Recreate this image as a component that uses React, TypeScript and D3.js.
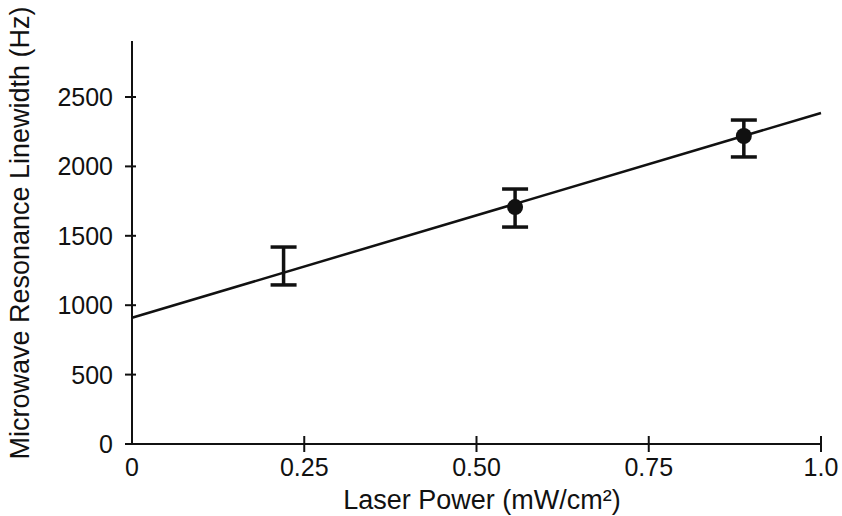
import React from "react";
import * as d3 from "d3";

const power = [0.22, 0.556, 0.888];
const linewidth = [1240, 1707, 2219];
const errLow = [1146, 1563, 2068];
const errHigh = [1419, 1837, 2334];
const showMarker = [false, true, true];
const fitX = [0, 1.0];
const fitY = [910, 2385];
const xTicks = [0, 0.25, 0.5, 0.75, 1.0];
const xTickLabels = ["0", "0.25", "0.50", "0.75", "1.0"];
const yTicks = [0, 500, 1000, 1500, 2000, 2500];

const W = 842, H = 516;
const left = 132, right = 821, bottom = 444;

export default function App() {
  const x = d3.scaleLinear().domain([0, 1]).range([left, right]);
  const y = d3.scaleLinear().domain([0, 2500]).range([bottom, 97]);
  const yTop = 41;
  const line = d3.line<number>().x((_, i) => x(fitX[i])).y((d) => y(d));
  const font = "'Liberation Sans', Arial, sans-serif";
  return (
    <svg width={W} height={H} style={{ position: "absolute", left: 0, top: 0, background: "#fff" }}>
      <g fontFamily={font} fill="#111">
        <line x1={left} x2={left} y1={yTop} y2={bottom} stroke="#111" strokeWidth={2} />
        <line x1={left} x2={right} y1={bottom} y2={bottom} stroke="#111" strokeWidth={2} />
        {yTicks.map((t) => (
          <g key={t}>
            <line x1={left - 7} x2={left + 4} y1={y(t)} y2={y(t)} stroke="#111" strokeWidth={2} />
            <text x={left - 19} y={y(t)} dy="0.36em" textAnchor="end" fontSize={25}>{t}</text>
          </g>
        ))}
        {xTicks.map((t, i) => (
          <g key={t}>
            {i > 0 && <line x1={x(t)} x2={x(t)} y1={bottom - 8} y2={bottom + 8} stroke="#111" strokeWidth={2} />}
            <text x={x(t)} y={476} textAnchor="middle" fontSize={25}>{xTickLabels[i]}</text>
          </g>
        ))}
        <text x={482} y={509} textAnchor="middle" fontSize={27}>Laser Power (mW/cm²)</text>
        <text transform={`translate(29,${233}) rotate(-90)`} textAnchor="middle" fontSize={27}>Microwave Resonance Linewidth (Hz)</text>
        <path d={line(fitY) || ""} fill="none" stroke="#111" strokeWidth={2.5} />
        {power.map((p, i) => (
          <g key={i}>
            <line x1={x(p)} x2={x(p)} y1={y(errLow[i])} y2={y(errHigh[i])} stroke="#111" strokeWidth={3.5} />
            <line x1={x(p) - 13} x2={x(p) + 13} y1={y(errLow[i])} y2={y(errLow[i])} stroke="#111" strokeWidth={3.5} />
            <line x1={x(p) - 13} x2={x(p) + 13} y1={y(errHigh[i])} y2={y(errHigh[i])} stroke="#111" strokeWidth={3.5} />
            {showMarker[i] && <circle cx={x(p)} cy={y(linewidth[i])} r={8} fill="#111" />}
          </g>
        ))}
      </g>
    </svg>
  );
}
